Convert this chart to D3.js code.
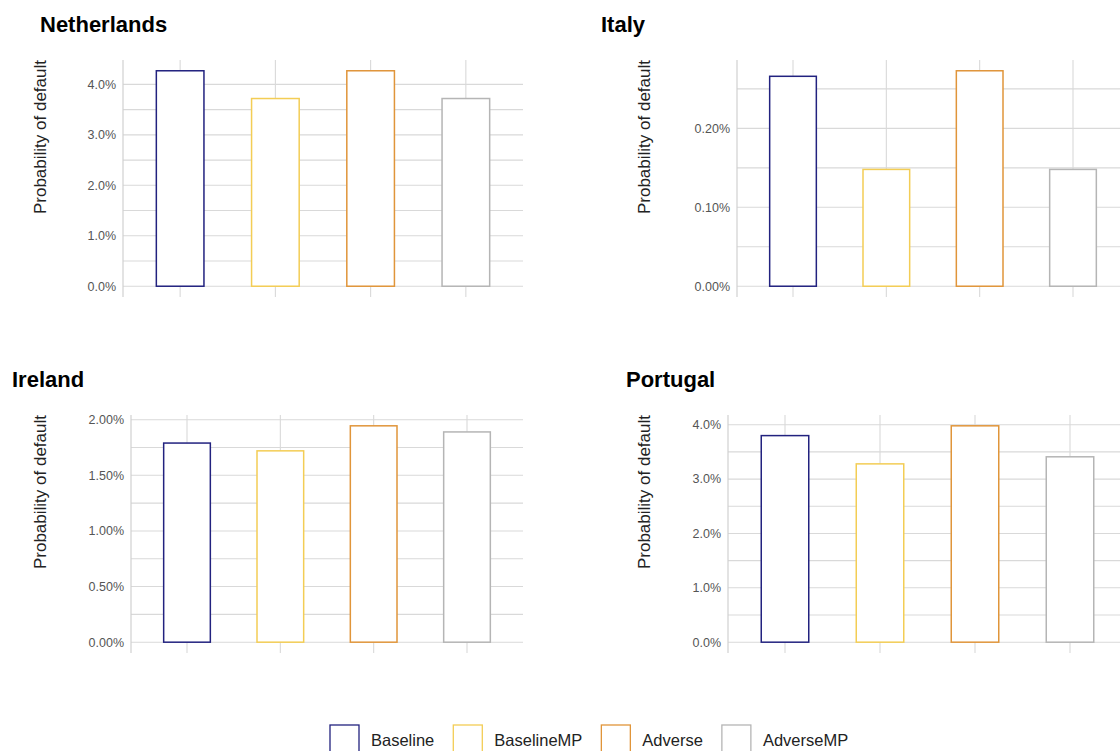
<!DOCTYPE html>
<html>
<head>
<meta charset="utf-8">
<script src="https://cdn.jsdelivr.net/npm/d3@7"></script>
<style>
  html, body { margin: 0; padding: 0; background: #fff; }
  svg { display: block; font-family: "Liberation Sans", Arial, sans-serif; }
</style>
</head>
<body>
<svg id="chart" width="1120" height="751"></svg>
<script>
// ---- data ----
const categories = ["Baseline", "BaselineMP", "Adverse", "AdverseMP"];
const countries = ["Netherlands", "Italy", "Ireland", "Portugal"];
const netherlandsPD = [0.0427, 0.0372, 0.0427, 0.0372];
const italyPD = [0.00266, 0.00148, 0.00273, 0.00148];
const irelandPD = [0.0179, 0.0172, 0.01945, 0.0189];
const portugalPD = [0.0380, 0.0328, 0.0398, 0.0341];
const netherlandsTicks = [0, 0.01, 0.02, 0.03, 0.04];
const italyTicks = [0, 0.001, 0.002];
const irelandTicks = [0, 0.005, 0.01, 0.015, 0.02];
const portugalTicks = [0, 0.01, 0.02, 0.03, 0.04];
const tickFormats = [".1%", ".2%", ".2%", ".1%"];
const yLabel = "Probability of default";

// ---- styles / layout ----
const colors = ["#22227f", "#f3cd55", "#e0953a", "#b5b5b5"];
const gridColor = "#d9d9d9";
const layout = [
  { left: 123, right: 523, top: 60, bottom: 297, titleX: 40, titleY: 32, labelX: 46 },
  { left: 737, right: 1129, top: 60, bottom: 297, titleX: 601, titleY: 32, labelX: 650 },
  { left: 131, right: 523, top: 415, bottom: 653, titleX: 12, titleY: 387, labelX: 46 },
  { left: 728, right: 1127, top: 415, bottom: 653, titleX: 626, titleY: 387, labelX: 650 }
];
const seriesData = [netherlandsPD, italyPD, irelandPD, portugalPD];
const tickData = [netherlandsTicks, italyTicks, irelandTicks, portugalTicks];

const svg = d3.select("#chart");

countries.forEach((country, i) => {
  const L = layout[i];
  const vals = seriesData[i];
  const ticks = tickData[i];
  const maxV = d3.max(vals);
  const y = d3.scaleLinear()
    .domain([-0.05 * maxV, 1.05 * maxV])
    .range([L.bottom, L.top]);
  const x = d3.scalePoint()
    .domain(categories)
    .range([L.left, L.right])
    .padding(0.6);
  const bw = x.step() * 0.5;

  const g = svg.append("g");

  // minor gridlines
  const step = ticks[1] - ticks[0];
  const minors = [];
  for (let k = 0; k < ticks.length; k++) {
    const m = ticks[k] + step / 2;
    if (m < y.domain()[1]) minors.push(m);
  }
  g.selectAll("line.minor").data(minors).join("line")
    .attr("x1", L.left).attr("x2", L.right)
    .attr("y1", d => y(d)).attr("y2", d => y(d))
    .attr("stroke", gridColor).attr("stroke-width", 1.1);

  // major gridlines
  g.selectAll("line.major").data(ticks).join("line")
    .attr("x1", L.left).attr("x2", L.right)
    .attr("y1", d => y(d)).attr("y2", d => y(d))
    .attr("stroke", gridColor).attr("stroke-width", 1.1);

  // vertical gridlines
  g.selectAll("line.vgrid").data(categories).join("line")
    .attr("x1", d => x(d)).attr("x2", d => x(d))
    .attr("y1", L.top).attr("y2", L.bottom)
    .attr("stroke", gridColor).attr("stroke-width", 1.1);

  // y axis line
  g.append("line")
    .attr("x1", L.left).attr("x2", L.left)
    .attr("y1", L.top).attr("y2", L.bottom)
    .attr("stroke", "#d0d0d0").attr("stroke-width", 1.2);

  // tick labels
  const fmt = d3.format(tickFormats[i]);
  g.selectAll("text.tick").data(ticks).join("text")
    .attr("x", L.left - 7)
    .attr("y", d => y(d))
    .attr("dy", "0.35em")
    .attr("text-anchor", "end")
    .attr("font-size", 12.5)
    .attr("fill", "#555")
    .text(d => fmt(d));

  // bars
  g.selectAll("rect.bar").data(vals).join("rect")
    .attr("x", (d, j) => x(categories[j]) - bw / 2)
    .attr("width", bw)
    .attr("y", d => y(d))
    .attr("height", d => y(0) - y(d))
    .attr("fill", "#fff")
    .attr("stroke", (d, j) => colors[j])
    .attr("stroke-width", 1.5);

  // y label (top-anchored like the reference)
  g.append("text")
    .attr("transform", `translate(${L.labelX},${L.top}) rotate(-90)`)
    .attr("text-anchor", "end")
    .attr("font-size", 17)
    .attr("fill", "#222")
    .text(yLabel);

  // title
  g.append("text")
    .attr("x", L.titleX)
    .attr("y", L.titleY)
    .attr("font-size", 22)
    .attr("font-weight", "bold")
    .attr("fill", "#000")
    .text(country);
});

// legend
const lg = svg.append("g");
let lx = 330;
categories.forEach((c, j) => {
  lg.append("rect")
    .attr("x", lx).attr("y", 725)
    .attr("width", 29).attr("height", 29)
    .attr("fill", "#fff")
    .attr("stroke", colors[j])
    .attr("stroke-width", 1.3);
  const t = lg.append("text")
    .attr("x", lx + 41).attr("y", 746)
    .attr("font-size", 16.5)
    .attr("fill", "#222")
    .text(c);
  lx += 41 + t.node().getComputedTextLength() + 19;
});
</script>
</body>
</html>
